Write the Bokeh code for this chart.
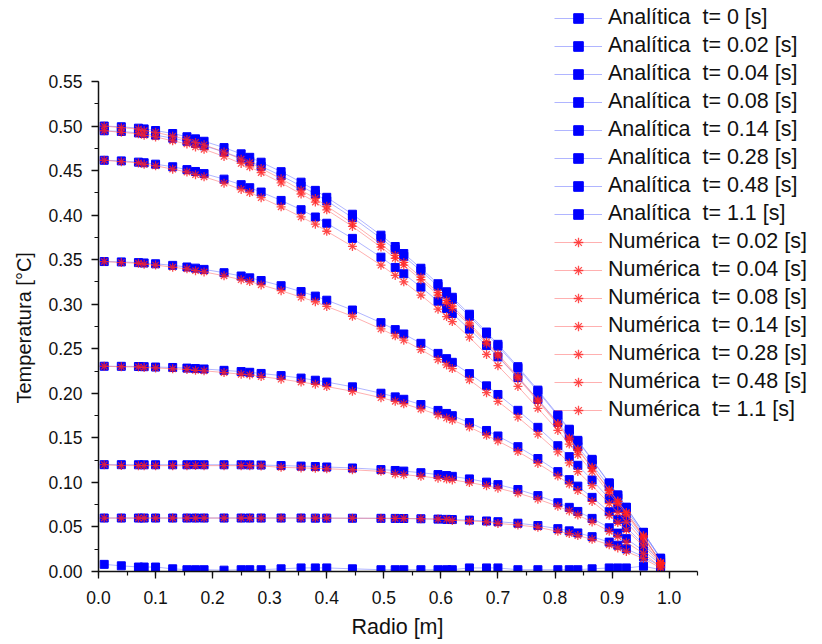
from bokeh.plotting import figure
from bokeh.models import Range1d, Legend, LegendItem, FixedTicker, NumeralTickFormatter, Title
from bokeh.embed import file_html
from bokeh.resources import INLINE

radio = [0.010, 0.040, 0.070, 0.080, 0.100, 0.130, 0.155, 0.170, 0.185, 0.220,
         0.250, 0.265, 0.285, 0.320, 0.355, 0.380, 0.400, 0.445, 0.495, 0.520,
         0.535, 0.565, 0.595, 0.610, 0.620, 0.650, 0.680, 0.700, 0.735, 0.770,
         0.805, 0.825, 0.840, 0.865, 0.895, 0.910, 0.925, 0.955, 0.985]

tiempos = ["0", "0.02", "0.04", "0.08", "0.14", "0.28", "0.48", "1.1"]

an_t0 = [0.008, 0.0064, 0.005, 0.005, 0.005, 0.003, 0.002, 0.002, 0.002, 0.0015,
         0.002, 0.002, 0.002, 0.003, 0.004, 0.004, 0.004, 0.003, 0.002, 0.002,
         0.002, 0.002, 0.002, 0.002, 0.002, 0.004, 0.004, 0.004, 0.002, 0.002,
         0.002, 0.002, 0.002, 0.003, 0.004, 0.004, 0.004, 0.006, 0.002]
an_t002 = [0.0600, 0.0600, 0.0600, 0.0600, 0.0600, 0.0600, 0.0600, 0.0600, 0.0600, 0.0600,
           0.0600, 0.0600, 0.0600, 0.0600, 0.0600, 0.0599, 0.0599, 0.0598, 0.0597, 0.0596,
           0.0595, 0.0592, 0.0588, 0.0585, 0.0583, 0.0577, 0.0567, 0.0559, 0.0542, 0.0516,
           0.0481, 0.0456, 0.0433, 0.0391, 0.0330, 0.0295, 0.0255, 0.0165, 0.0060]
an_t004 = [0.1199, 0.1199, 0.1198, 0.1198, 0.1198, 0.1198, 0.1198, 0.1199, 0.1198, 0.1198,
           0.1198, 0.1197, 0.1195, 0.1189, 0.1183, 0.1178, 0.1173, 0.1162, 0.1144, 0.1134,
           0.1127, 0.1109, 0.1088, 0.1077, 0.1068, 0.1039, 0.1003, 0.0975, 0.0920, 0.0852,
           0.0772, 0.0720, 0.0674, 0.0596, 0.0491, 0.0431, 0.0369, 0.0232, 0.0082]
an_t008 = [0.2304, 0.2303, 0.2301, 0.2299, 0.2295, 0.2290, 0.2283, 0.2278, 0.2273, 0.2258,
           0.2244, 0.2236, 0.2223, 0.2199, 0.2171, 0.2147, 0.2126, 0.2073, 0.2001, 0.1960,
           0.1933, 0.1874, 0.1808, 0.1774, 0.1749, 0.1671, 0.1583, 0.1521, 0.1401, 0.1268,
           0.1121, 0.1031, 0.0958, 0.0832, 0.0671, 0.0585, 0.0495, 0.0307, 0.0106]
an_t014 = [0.3479, 0.3475, 0.3467, 0.3463, 0.3454, 0.3436, 0.3418, 0.3405, 0.3391, 0.3354,
           0.3317, 0.3296, 0.3266, 0.3208, 0.3142, 0.3091, 0.3045, 0.2935, 0.2793, 0.2715,
           0.2666, 0.2561, 0.2448, 0.2389, 0.2348, 0.2221, 0.2084, 0.1987, 0.1809, 0.1618,
           0.1412, 0.1289, 0.1192, 0.1027, 0.0819, 0.0711, 0.0599, 0.0368, 0.0126]
an_t028 = [0.4616, 0.4609, 0.4595, 0.4588, 0.4572, 0.4543, 0.4511, 0.4490, 0.4466, 0.4404,
           0.4342, 0.4308, 0.4259, 0.4165, 0.4061, 0.3979, 0.3909, 0.3739, 0.3528, 0.3413,
           0.3342, 0.3192, 0.3034, 0.2951, 0.2895, 0.2720, 0.2536, 0.2409, 0.2176, 0.1931,
           0.1673, 0.1520, 0.1402, 0.1201, 0.0951, 0.0823, 0.0691, 0.0422, 0.0143]
an_t048 = [0.4947, 0.4939, 0.4923, 0.4916, 0.4898, 0.4864, 0.4829, 0.4805, 0.4779, 0.4709,
           0.4640, 0.4602, 0.4548, 0.4443, 0.4327, 0.4237, 0.4160, 0.3973, 0.3741, 0.3616,
           0.3538, 0.3375, 0.3203, 0.3114, 0.3053, 0.2865, 0.2667, 0.2530, 0.2282, 0.2021,
           0.1748, 0.1586, 0.1462, 0.1251, 0.0989, 0.0855, 0.0718, 0.0438, 0.0148]
an_t11 = [0.5000, 0.4992, 0.4976, 0.4968, 0.4950, 0.4916, 0.4880, 0.4856, 0.4829, 0.4758,
          0.4688, 0.4649, 0.4594, 0.4488, 0.4370, 0.4278, 0.4200, 0.4010, 0.3775, 0.3648,
          0.3569, 0.3404, 0.3230, 0.3140, 0.3078, 0.2888, 0.2688, 0.2550, 0.2299, 0.2036,
          0.1760, 0.1597, 0.1472, 0.1259, 0.0995, 0.0860, 0.0722, 0.0440, 0.0149]

nu_t002 = [0.0600, 0.0600, 0.0600, 0.0600, 0.0600, 0.0600, 0.0600, 0.0600, 0.0600, 0.0600,
           0.0600, 0.0600, 0.0600, 0.0600, 0.0600, 0.0599, 0.0599, 0.0598, 0.0597, 0.0596,
           0.0595, 0.0592, 0.0588, 0.0585, 0.0573, 0.0567, 0.0557, 0.0539, 0.0522, 0.0496,
           0.0451, 0.0426, 0.0403, 0.0361, 0.0300, 0.0265, 0.0225, 0.0145, 0.0040]
nu_t004 = [0.1199, 0.1189, 0.1188, 0.1188, 0.1188, 0.1188, 0.1188, 0.1189, 0.1188, 0.1188,
           0.1188, 0.1187, 0.1185, 0.1169, 0.1163, 0.1158, 0.1153, 0.1142, 0.1124, 0.1094,
           0.1087, 0.1069, 0.1048, 0.1037, 0.1028, 0.0999, 0.0963, 0.0935, 0.0880, 0.0812,
           0.0732, 0.0680, 0.0634, 0.0556, 0.0451, 0.0391, 0.0329, 0.0202, 0.0052]
nu_t008 = [0.2304, 0.2298, 0.2296, 0.2289, 0.2285, 0.2275, 0.2268, 0.2258, 0.2253, 0.2233,
           0.2214, 0.2206, 0.2188, 0.2159, 0.2126, 0.2102, 0.2076, 0.2023, 0.1951, 0.1910,
           0.1883, 0.1824, 0.1758, 0.1724, 0.1699, 0.1621, 0.1528, 0.1466, 0.1346, 0.1213,
           0.1071, 0.0981, 0.0908, 0.0787, 0.0631, 0.0550, 0.0465, 0.0287, 0.0081]
nu_t014 = [0.3479, 0.3468, 0.3460, 0.3449, 0.3440, 0.3415, 0.3397, 0.3377, 0.3363, 0.3319,
           0.3275, 0.3254, 0.3217, 0.3152, 0.3079, 0.3028, 0.2975, 0.2865, 0.2723, 0.2645,
           0.2596, 0.2491, 0.2378, 0.2319, 0.2278, 0.2151, 0.2007, 0.1910, 0.1732, 0.1541,
           0.1342, 0.1219, 0.1122, 0.0964, 0.0763, 0.0662, 0.0557, 0.0340, 0.0091]
nu_t028 = [0.4616, 0.4600, 0.4586, 0.4570, 0.4554, 0.4516, 0.4484, 0.4454, 0.4430, 0.4359,
           0.4288, 0.4254, 0.4196, 0.4093, 0.3980, 0.3898, 0.3819, 0.3649, 0.3438, 0.3323,
           0.3252, 0.3102, 0.2944, 0.2861, 0.2805, 0.2630, 0.2437, 0.2310, 0.2077, 0.1832,
           0.1583, 0.1430, 0.1312, 0.1120, 0.0879, 0.0760, 0.0637, 0.0386, 0.0098]
nu_t048 = [0.4947, 0.4929, 0.4913, 0.4896, 0.4878, 0.4834, 0.4799, 0.4765, 0.4739, 0.4659,
           0.4580, 0.4542, 0.4478, 0.4363, 0.4237, 0.4147, 0.4060, 0.3873, 0.3641, 0.3516,
           0.3438, 0.3275, 0.3103, 0.3014, 0.2953, 0.2765, 0.2557, 0.2420, 0.2172, 0.1911,
           0.1648, 0.1486, 0.1362, 0.1161, 0.0909, 0.0785, 0.0658, 0.0398, 0.0098]
nu_t11 = [0.4999, 0.4982, 0.4966, 0.4948, 0.4930, 0.4886, 0.4850, 0.4816, 0.4789, 0.4708,
          0.4628, 0.4589, 0.4524, 0.4408, 0.4280, 0.4188, 0.4100, 0.3910, 0.3675, 0.3548,
          0.3469, 0.3304, 0.3130, 0.3040, 0.2978, 0.2788, 0.2578, 0.2440, 0.2189, 0.1926,
          0.1660, 0.1497, 0.1372, 0.1169, 0.0915, 0.0790, 0.0662, 0.0400, 0.0099]

analiticas = [an_t0, an_t002, an_t004, an_t008, an_t014, an_t028, an_t048, an_t11]
numericas = [nu_t002, nu_t004, nu_t008, nu_t014, nu_t028, nu_t048, nu_t11]

FONT = "Liberation Sans"

# The frame reaches the top and right edges so the legend (which overlaps the
# area above the axes) is not clipped; the axes are limited with bounds.
X_AXIS_END = 1.05
Y_AXIS_END = 0.55
p = figure(width=822, height=644, output_backend="svg", toolbar_location=None,
           x_range=Range1d(0, X_AXIS_END * (822 - 97) / 600.0),
           y_range=Range1d(0, Y_AXIS_END * 571 / 490.0),
           min_border_left=97, min_border_right=0, min_border_top=0, min_border_bottom=73)
p.outline_line_color = None
p.xgrid.visible = False
p.ygrid.visible = False
p.background_fill_color = "white"

items = []
for tt, ys in zip(tiempos, analiticas):
    ln = p.line(radio, ys, line_color="#6f78ff", line_alpha=0.55, line_width=1)
    sc = p.scatter(radio, ys, marker="square", size=8, fill_color="#0000ff",
                   line_color="#0000ff")
    items.append(LegendItem(label="Analítica  t= %s [s]" % tt, renderers=[ln, sc]))
for tt, ys in zip(tiempos[1:], numericas):
    ln = p.line(radio, ys, line_color="#ff7070", line_alpha=0.55, line_width=1)
    sc = p.scatter(radio, ys, marker="asterisk", size=9, line_color="#ff2020",
                   line_alpha=0.8, line_width=1.3)
    items.append(LegendItem(label="Numérica  t= %s [s]" % tt, renderers=[ln, sc]))

legend = Legend(items=items, location=(456, 149), padding=0, margin=0, spacing=3,
                glyph_width=48, glyph_height=24, label_height=24, label_standoff=6,
                label_text_font=FONT, label_text_font_size="21.5px",
                label_text_color="#111111",
                border_line_alpha=0, background_fill_alpha=0)
p.add_layout(legend, "center")

p.xaxis.ticker = FixedTicker(ticks=[i / 10 for i in range(11)],
                             minor_ticks=[i / 20 for i in range(22)])
p.yaxis.ticker = FixedTicker(ticks=[i / 20 for i in range(12)],
                             minor_ticks=[i / 40 for i in range(23)])
p.xaxis.bounds = (0, X_AXIS_END)
p.yaxis.bounds = (0, Y_AXIS_END)
p.xaxis.formatter = NumeralTickFormatter(format="0.0")
p.yaxis.formatter = NumeralTickFormatter(format="0.00")
for ax in (p.xaxis[0], p.yaxis[0]):
    ax.axis_line_width = 1.5
    ax.axis_line_color = "#111111"
    ax.major_tick_line_color = "#111111"
    ax.minor_tick_line_color = "#111111"
    ax.major_tick_line_width = 1.3
    ax.minor_tick_line_width = 1.2
    ax.major_tick_out = 7
    ax.major_tick_in = 0
    ax.minor_tick_out = 4
    ax.minor_tick_in = 0
    ax.major_label_text_font = FONT
    ax.major_label_text_font_size = "17.5px"
    ax.major_label_text_color = "#111111"
p.xaxis.major_label_standoff = 12
p.yaxis.major_label_standoff = 9

xlabel = Title(text="Radio [m]", align="left", offset=253, standoff=12,
               text_font=FONT, text_font_size="21.5px", text_font_style="normal",
               text_color="#111111")
p.add_layout(xlabel, "below")
ylabel = Title(text="Temperatura [°C]", align="left", offset=168, standoff=21,
               text_font=FONT, text_font_size="20px", text_font_style="normal",
               text_color="#111111")
p.add_layout(ylabel, "left")

open("out.html", "w").write(file_html(p, INLINE))
